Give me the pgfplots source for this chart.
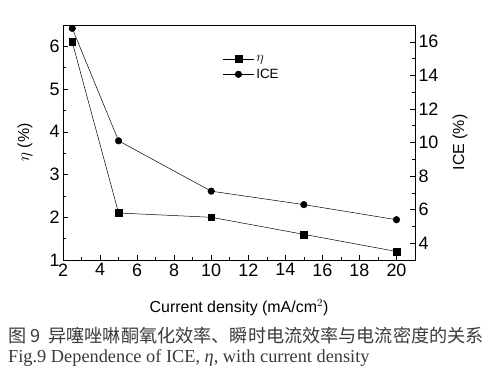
\documentclass[border=0pt]{standalone}
\usepackage{fontspec}
\setmainfont{Liberation Sans}
\newfontfamily\timesfont{Liberation Serif}
\newfontfamily\cjk{Noto Sans CJK SC}
\usepackage{pgfplots}
\pgfplotsset{compat=1.18}
\definecolor{capgray}{HTML}{3A3A3A}
\newcommand{\tkfont}{\fontsize{18}{20}\selectfont}
\begin{document}
\begin{tikzpicture}
\path[use as bounding box] (-63bp,-128bp) rectangle (422bp,260bp);
\begin{axis}[
  at={(0,0)}, anchor=south west,
  scale only axis, width=352bp, height=235bp,
  xmin=2, xmax=21, ymin=1, ymax=6.5,
  xtick={2,4,...,20}, ytick={1,2,...,6},
  minor x tick num=1, minor y tick num=1,
  xtick pos=bottom, ytick pos=left,
  tick align=inside,
  major tick length=5bp, minor tick length=3bp,
  tick style={black, line width=0.5pt},
  axis line style={line width=0.7pt},
  xticklabel={\tkfont\pgfmathprintnumber[assume math mode=true]{\tick}},
  yticklabel={\tkfont\pgfmathprintnumber[assume math mode=true]{\tick}},
  label style={font=\fontsize{16}{18}\selectfont},
  xlabel={Current density (mA/cm$^2$)},
  ylabel={$\eta$ (\%)},
  xlabel style={at={(axis description cs:0.5,-0.204)}, anchor=center},
  ylabel style={at={(axis description cs:-0.108,0.5)}, anchor=center},
]
\addplot[black, line width=0.5pt, mark=square*, mark size=3.4bp] coordinates {
  (2.5,6.1) (5,2.1) (10,2.0) (15,1.6) (20,1.2)
};
\end{axis}
\begin{axis}[
  at={(0,0)}, anchor=south west,
  scale only axis, width=352bp, height=235bp,
  xmin=2, xmax=21, ymin=3, ymax=17,
  axis x line=none, axis y line*=right,
  ytick={4,6,...,16}, minor y tick num=1,
  tick align=inside,
  major tick length=5bp, minor tick length=3bp,
  tick style={black, line width=0.5pt},
  axis line style={line width=0.7pt},
  yticklabel={\tkfont\pgfmathprintnumber[assume math mode=true]{\tick}},
  label style={font=\fontsize{16}{18}\selectfont},
  ylabel={ICE (\%)},
  ylabel style={at={(axis description cs:1.128,0.5)}, anchor=center, rotate=0},
  legend style={draw=none, fill=none, at={(rel axis cs:0.45,0.885)}, anchor=north west,
    font=\fontsize{13.5}{15}\selectfont, row sep=2bp, inner sep=1bp},
  legend cell align=left,
  legend image code/.code={\draw[mark repeat=2,mark phase=2] plot coordinates {(0cm,0cm) (0.55cm,0cm) (1.1cm,0cm)};},
]
\addlegendimage{black, line width=0.5pt, mark=square*, mark size=3.4bp}
\addlegendentry{$\eta$}
\addplot[black, line width=0.5pt, mark=*, mark size=3.3bp] coordinates {
  (2.5,16.8) (5,10.1) (10,7.1) (15,6.3) (20,5.4)
};
\addlegendentry{ICE}
\end{axis}
\node[anchor=west, text=capgray, inner sep=0pt] at (-55bp,-76bp) {\cjk\fontsize{18.2}{20}\selectfont 图 9\ \ 异噻唑啉酮氧化效率、瞬时电流效率与电流密度的关系};
\node[anchor=west, text=capgray, inner sep=0pt] at (-55bp,-98bp) {\timesfont\fontsize{18.4}{20}\selectfont Fig.9 Dependence of ICE, \textit{η}, with current density};
\end{tikzpicture}
\end{document}
